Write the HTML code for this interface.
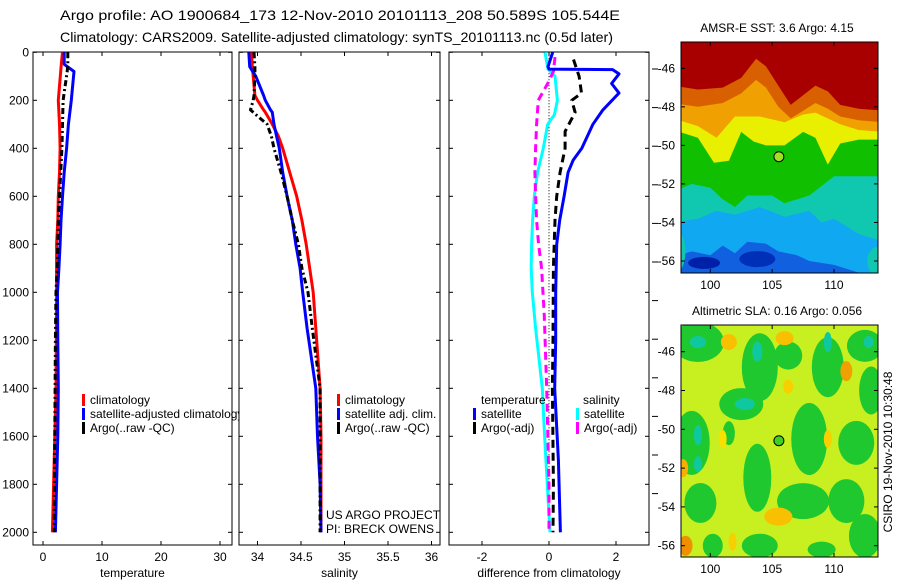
<!DOCTYPE html>
<html><head><meta charset="utf-8"><style>
html,body{margin:0;padding:0;background:#fff;}
svg{display:block;font-family:"Liberation Sans",sans-serif;}
text{font-size:12px;fill:#000;}
</style></head><body>
<svg id="chart" width="900" height="580" viewBox="0 0 900 580">
<defs>
<clipPath id="clipT"><rect x="33" y="52" width="206" height="494"/></clipPath>
<clipPath id="clipM1"><rect x="681" y="42" width="197" height="231"/></clipPath>
<clipPath id="clipM2"><rect x="681" y="325" width="197" height="232"/></clipPath>
</defs>
<text x="60" y="20" textLength="560" lengthAdjust="spacingAndGlyphs" style="font-size:14px">Argo profile: AO 1900684_173 12-Nov-2010 20101113_208 50.589S 105.544E</text>
<text x="60" y="42" textLength="553" lengthAdjust="spacingAndGlyphs" style="font-size:14px">Climatology: CARS2009. Satellite-adjusted climatology: synTS_20101113.nc (0.5d later)</text>
<g id="g"></g>
</svg>
<script>
// depth levels (m) shared by profile series
const tDepth = [0,50,80,200,300,400,500,600,700,800,900,1000,1200,1400,1600,1800,2000];
const tempClim = [3.3,3.1,3.0,2.6,2.8,2.9,2.8,2.6,2.5,2.3,2.3,2.3,2.25,2.2,2.0,1.8,1.6];
const tempSat  = [3.6,3.6,5.25,4.8,4.3,4.0,3.6,3.3,3.05,2.9,2.7,2.45,2.5,2.6,2.5,2.3,2.1];
const tempArgo = [4.2,4.2,4.1,3.4,3.3,3.2,3.0,2.8,2.6,2.5,2.4,2.2,2.1,2.05,2.0,1.95,1.9];
const sDepth = [0,60,100,180,200,240,250,300,350,400,500,600,700,800,900,1000,1150,1400,1600,1800,2000];
const salClim = [33.93,33.94,33.95,33.97,34.0,34.07,34.09,34.17,34.24,34.29,34.37,34.45,34.51,34.56,34.6,34.64,34.67,34.72,34.73,34.73,34.73];
const salSat  = [33.9,33.91,33.98,34.07,34.09,34.15,34.17,34.19,34.22,34.25,34.29,34.34,34.4,34.44,34.49,34.52,34.57,34.67,34.69,34.72,34.73];
const salArgo = [33.96,33.97,33.97,33.96,33.95,33.92,33.95,34.11,34.16,34.19,34.27,34.34,34.4,34.47,34.51,34.58,34.63,34.72,34.72,34.72,34.72];
const dDepth = [0,60,70,72,90,130,170,240,300,400,450,500,600,700,800,1000,1200,1400,1700,2000];
const diffTempSat = [0.11,-0.03,0.0,1.9,2.09,1.87,2.09,1.61,1.31,0.98,0.72,0.57,0.45,0.32,0.23,0.2,0.2,0.17,0.28,0.34];
const d2Depth = [30,100,170,200,250,330,400,500,600,700,900,1200,1400,1800,2000];
const diffTempArgo = [0.73,0.9,0.97,0.68,0.78,0.48,0.48,0.33,0.23,0.18,0.13,0.12,0.1,0.13,0.12];
const d3Depth = [0,70,100,200,260,300,400,500,600,700,800,900,1000,1150,1400,1600,2000];
const diffSalSat = [-0.12,-0.03,0.18,0.25,0.16,-0.04,-0.17,-0.34,-0.44,-0.49,-0.52,-0.53,-0.5,-0.4,-0.2,-0.13,0.03];
const d4Depth = [20,80,120,200,300,400,500,600,700,800,900,1100,1400,1800,2000];
const diffSalArgo = [0.18,0.13,0.0,-0.32,-0.37,-0.4,-0.42,-0.4,-0.37,-0.31,-0.22,-0.14,-0.07,0.0,0.0];
const depthTicks = [0,200,400,600,800,1000,1200,1400,1600,1800,2000];
const tempTicks = [0,10,20,30];
const salTicks = [34,34.5,35,35.5,36];
const salTickLabels = ["34","34.5","35","35.5","36"];
const diffTicks = [-2,0,2];
const latTicks = [-46,-48,-50,-52,-54,-56];
const lonTicks = [100,105,110];
const floatLon = 105.544, floatLat = -50.589;

const NS='http://www.w3.org/2000/svg';
const G=document.getElementById('g');
function mk(tag,attrs,parent){const e=document.createElementNS(NS,tag);for(const k in attrs)e.setAttribute(k,attrs[k]);(parent||G).appendChild(e);return e;}
const yD = d => 52.3 + d*0.24;
const xT = t => 43 + 5.9*t;
const xS = s => 257.5 + 87*(s-34);
const xDf = v => 549 + 33.5*v;
const TOP=52, BOT=545;
function line(xs,ds,fx,color,dash,w,name,clip){
  const p=xs.map((v,i)=>fx(v).toFixed(1)+','+yD(ds[i]).toFixed(1)).join(' ');
  const e=mk('polyline',{points:p,fill:'none',stroke:color,'stroke-width':w||3,'stroke-dasharray':dash||'none','stroke-linejoin':'round'});
  if(clip) e.setAttribute('clip-path',clip);
  
  
}
function txt(x,y,s,anchor,name,extra){const e=mk('text',Object.assign({x:x,y:y,'text-anchor':anchor||'start'},extra||{}));e.textContent=s;
  
  
  return e;}
function panel(x0,x1,name,xticks,fx,labels,xlabel){
  const r=mk('rect',{x:x0,y:TOP,width:x1-x0,height:BOT-TOP,fill:'none',stroke:'#000','stroke-width':1});
  
  
  depthTicks.forEach(d=>{mk('line',{x1:x0,x2:x0+4,y1:yD(d),y2:yD(d),stroke:'#000'});mk('line',{x1:x1-4,x2:x1,y1:yD(d),y2:yD(d),stroke:'#000'});});
  xticks.forEach((v,i)=>{const x=fx(v);mk('line',{x1:x,x2:x,y1:TOP,y2:TOP+4,stroke:'#000'});mk('line',{x1:x,x2:x,y1:BOT-4,y2:BOT,stroke:'#000'});
    txt(x,561,labels[i],'middle','x-tick-label');});
  txt((x0+x1)/2,577,xlabel,'middle','x-axis-title');
}
panel(33,232,'temperature-panel',tempTicks,xT,tempTicks.map(String),'temperature');
panel(239,440,'salinity-panel',salTicks,xS,salTickLabels,'salinity');
panel(449,649,'difference-panel',diffTicks,xDf,diffTicks.map(String),'difference from climatology');
depthTicks.forEach(d=>txt(29,yD(d)+4,String(d),'end','y-tick-label'));
for(let i=0;i<12;i++){const y=69+i*38.6; if(y<545) mk('line',{x1:652,x2:658,y1:y,y2:y,stroke:'#000'});}
const zl=mk('line',{x1:xDf(0),x2:xDf(0),y1:yD(0),y2:yD(2000),stroke:'#000','stroke-dasharray':'1,2'});


line(tempClim,tDepth,xT,'#ff0000',null,3,'temp-climatology-line');
line(tempSat,tDepth,xT,'#0000ff',null,3,'temp-satellite-line');
line(tempArgo,tDepth,xT,'#000',"6,3,2,3",3,'temp-argo-line');
line(salClim,sDepth,xS,'#ff0000',null,3,'sal-climatology-line');
line(salSat,sDepth,xS,'#0000ff',null,3,'sal-satellite-line');
line(salArgo,sDepth,xS,'#000',"6,3,2,3",3,'sal-argo-line');
line(diffSalSat,d3Depth,xDf,'#00ffff',null,3,'diff-sal-satellite-line');
line(diffSalArgo,d4Depth,xDf,'#ff00ff',"8,5",3,'diff-sal-argo-line');
line(diffTempArgo,d2Depth,xDf,'#000',"8,5",3,'diff-temp-argo-line');
line(diffTempSat,dDepth,xDf,'#0000ff',null,3,'diff-temp-satellite-line');
function leg(x,y,color,label,name,clip){const r=mk('rect',{x:x,y:y-10,width:3,height:12,fill:color});
  
  
  const t=txt(x+8,y,label,'start',name); if(clip) t.setAttribute('clip-path',clip);}
leg(82,404,'#ff0000','climatology','legend-temp-climatology');
leg(82,418,'#0000ff','satellite-adjusted climatology','legend-temp-satellite','url(#clipT)');
leg(82,432,'#000','Argo(..raw -QC)','legend-temp-argo');
leg(337,404,'#ff0000','climatology','legend-sal-climatology');
leg(337,418,'#0000ff','satellite adj. clim.','legend-sal-satellite');
leg(337,432,'#000','Argo(..raw -QC)','legend-sal-argo');
txt(481,404,'temperature','start','legend-temp-heading');
leg(473,418,'#0000ff','satellite','legend-diff-temp-satellite');
leg(473,432,'#000','Argo(-adj)','legend-diff-temp-argo');
txt(583,404,'salinity','start','legend-sal-heading');
leg(576,418,'#00ffff','satellite','legend-diff-sal-satellite');
leg(576,432,'#ff00ff','Argo(-adj)','legend-diff-sal-argo');
txt(326,519,'US ARGO PROJECT','start','project-label');
txt(326,533,'PI: BRECK OWENS','start','pi-label');

const mx = lon => 710.3 + (lon-100)*12.37;
function mapFrame(y0,y1,lat46,lat56,title,name,clip,draw,dotColor){
  const my = lat => lat46 + (lat+46)*(lat56-lat46)/(-10);
  const g=mk('g',{'clip-path':clip});
  
  
  draw(g,my);
  const r=mk('rect',{x:681,y:y0,width:197,height:y1-y0,fill:'none',stroke:'#000'});
  
  
  latTicks.forEach(l=>{const y=my(l);mk('line',{x1:681,x2:685,y1:y,y2:y,stroke:'#000'});mk('line',{x1:874,x2:878,y1:y,y2:y,stroke:'#000'});txt(675,y+4,String(l),'end','map-lat-label');});
  lonTicks.forEach(l=>{const x=mx(l);mk('line',{x1:x,x2:x,y1:y0,y2:y0+4,stroke:'#000'});mk('line',{x1:x,x2:x,y1:y1-4,y2:y1,stroke:'#000'});txt(x,y1+16,String(l),'middle','map-lon-label');});
  txt(777,y0-10,title,'middle',name+'-title');
  const c=mk('circle',{cx:mx(floatLon),cy:my(floatLat),r:5,fill:dotColor,stroke:'#000','stroke-width':1});
  
  
}
function band(g,my,pts,color,bottom){
  let p=pts.map(a=>mx(a[0]).toFixed(1)+','+my(a[1]).toFixed(1));
  p.push(mx(114)+','+my(bottom)); p.push(mx(97)+','+my(bottom));
  mk('polygon',{points:p.join(' '),fill:color},g);
}
mapFrame(42,273,68.3,261,'AMSR-E SST: 3.6 Argo: 4.15','sst-map','url(#clipM1)',function(g,my){
  mk('rect',{x:681,y:42,width:197,height:231,fill:'#a80000'},g);
  band(g,my,[[97,-46.9],[99,-47.1],[101,-47],[102.5,-46.5],[103.7,-45.5],[104.5,-45.9],[105.5,-46.9],[106.5,-47.9],[107.5,-47.4],[108.5,-46.9],[109.5,-47.2],[110.5,-47.9],[112,-48.1],[114,-48.2]],'#d86000',-60);
  band(g,my,[[97,-47.8],[99,-48],[101,-47.8],[102.5,-47.3],[103.7,-46.6],[104.5,-47],[105.5,-48],[106.5,-48.6],[107.5,-48.2],[108.5,-47.8],[109.5,-48.1],[110.5,-48.5],[112,-48.7],[114,-48.8]],'#f0a000',-60);
  band(g,my,[[97,-48.6],[99,-49],[100.5,-49.6],[102,-48.5],[104,-48.5],[106,-48.8],[107.5,-48.4],[108.5,-48.3],[110.5,-48.9],[112,-49.2],[114,-49.3]],'#e8f000',-60);
  band(g,my,[[97,-49.2],[99,-49.6],[100.3,-50.9],[101.5,-50.8],[102.5,-49.3],[103.5,-49.8],[104.5,-50],[106,-50],[107.5,-49.3],[108.5,-49.6],[109.5,-51],[110.5,-49.9],[112,-49.7],[114,-49.7]],'#10c000',-60);
  band(g,my,[[97,-52.4],[98.5,-52],[100,-52.2],[101,-52.8],[102,-53.2],[103,-52.6],[105,-52.6],[106,-53],[108,-52.6],[110,-51.6],[112,-51.6],[114,-51.6]],'#10c8b0',-60);
  band(g,my,[[97,-54],[99,-53.8],[100.5,-53.4],[102,-53.6],[104,-53.2],[106,-53.7],[108,-53.4],[109,-54],[110,-53.8],[112,-54.6],[114,-55]],'#10a8f0',-60);
  band(g,my,[[97,-55.8],[98.5,-55.5],[100,-55.7],[101,-55.2],[102,-55.6],[103,-55],[104.5,-55.1],[105.5,-55.5],[107,-55.7],[108,-56],[110,-56.2],[114,-57]],'#1060e0',-60);
  mk('ellipse',{cx:mx(99.5),cy:my(-56.1),rx:16,ry:6,fill:'#0020a8'},g);
  mk('ellipse',{cx:mx(103.8),cy:my(-55.9),rx:18,ry:8,fill:'#0030b8'},g);
  mk('ellipse',{cx:mx(113.5),cy:my(-56),rx:10,ry:14,fill:'#10c8b0'},g);
  mk('ellipse',{cx:mx(97.5),cy:my(-55.5),rx:6,ry:18,fill:'#10c8b0'},g);
},'#a0e020');
mapFrame(325,557,351.7,545.7,'Altimetric SLA: 0.16 Argo: 0.056','sla-map','url(#clipM2)',function(g,my){
  mk('rect',{x:681,y:325,width:197,height:232,fill:'#c8f020'},g);
  const greens=[[99,-45.5,26,20],[104,-46.8,18,34],[102.5,-48.7,22,16],[106.3,-46.2,14,14],[109.5,-46.8,16,30],[112.5,-45.7,18,16],[98.5,-50.7,18,32],[99.2,-53.8,16,20],[103.8,-52.5,14,34],[108,-50.5,18,36],[111.8,-50.7,18,22],[107.5,-53.7,26,18],[111,-53.7,18,22],[104,-56,18,12],[112.5,-55.5,16,22],[100.2,-56,10,12],[109,-56.2,14,8],[113,-48,12,24],[101.5,-50.2,6,12]];
  greens.forEach(a=>mk('ellipse',{cx:mx(a[0]),cy:my(a[1]),rx:a[2],ry:a[3],fill:'#20c830'},g));
  const teals=[[99,-45.5,8,6],[103.8,-46,5,10],[102.8,-48.7,10,6],[99,-50.3,4,10],[99,-51.8,4,8],[109.5,-45.5,4,10],[112.8,-45.5,5,6]];
  teals.forEach(a=>mk('ellipse',{cx:mx(a[0]),cy:my(a[1]),rx:a[2],ry:a[3],fill:'#10c8a0'},g));
  const oranges=[[101.5,-45.5,8,8,'#f8c000'],[106,-45.3,9,7,'#f8c000'],[111,-47,6,10,'#f0a000'],[106.3,-47.8,5,7,'#f8d000'],[97.8,-52,5,9,'#f8b000'],[98,-56,7,10,'#f09000'],[105.5,-54.5,14,9,'#f8c000'],[101.8,-55.8,4,9,'#f8d000'],[109.5,-50.5,4,9,'#f8d000'],[101,-50.5,4,9,'#f8e000']];
  oranges.forEach(a=>mk('ellipse',{cx:mx(a[0]),cy:my(a[1]),rx:a[2],ry:a[3],fill:a[4]},g));
},'#40d020');
txt(0,0,'CSIRO 19-Nov-2010 10:30:48','middle','timestamp-label',{transform:'translate(892,452) rotate(-90)'});
</script>
</body></html>
